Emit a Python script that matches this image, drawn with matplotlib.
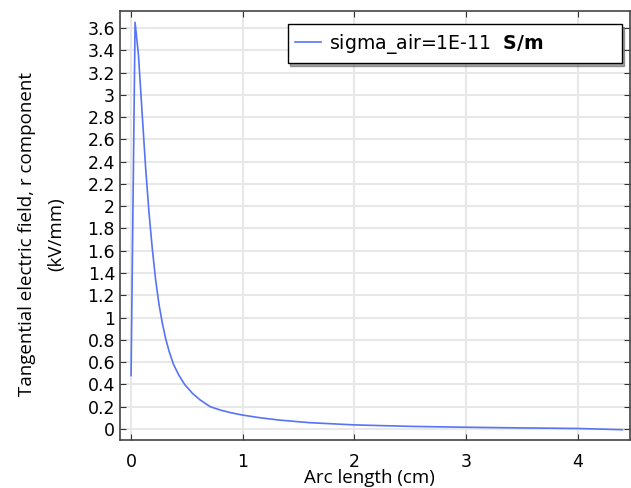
import matplotlib
matplotlib.use('Agg')
import matplotlib.pyplot as plt
from matplotlib.ticker import FormatStrFormatter
import numpy as np

# values
arc_len = [0.0, 0.036, 0.066, 0.10, 0.13, 0.16, 0.19, 0.22, 0.25, 0.28, 0.31, 0.34,
           0.38, 0.43, 0.48, 0.55, 0.62, 0.71, 0.80, 0.90, 1.0, 1.15, 1.33, 1.6,
           2.0, 2.5, 3.0, 3.5, 4.0, 4.4]
e_tan = [0.48, 3.65, 3.36, 2.82, 2.35, 1.95, 1.62, 1.34, 1.12, 0.95, 0.81, 0.70,
         0.58, 0.48, 0.40, 0.32, 0.26, 0.20, 0.17, 0.145, 0.125, 0.102, 0.08, 0.057,
         0.037, 0.024, 0.016, 0.010, 0.005, -0.006]
series_label = 'sigma_air=1E-11  $\\mathbf{S/m}$'
yticks = np.round(np.arange(0, 3.61, 0.2), 1)
xticks = [0, 1, 2, 3, 4]

plt.rcParams['mathtext.fontset'] = 'dejavusans'
fig = plt.figure(figsize=(6.31, 4.88), dpi=100)
ax = fig.add_axes([0.190, 0.098, 0.808, 0.879])

ax.plot(arc_len, e_tan, color='#5674f5', lw=1.2, label=series_label)

ax.set_xlim(-0.1, 4.465)
ax.set_ylim(-0.1, 3.75)
ax.set_xticks(xticks)
ax.set_yticks(yticks)
ax.yaxis.set_major_formatter(FormatStrFormatter('%g'))
ax.tick_params(direction='in', top=True, right=True, labelsize=12.5,
               length=4, color='#333333')
ax.tick_params(axis='x', pad=9)
ax.grid(True, color='#e8e8e8', lw=1.5)
ax.set_axisbelow(True)
for s in ax.spines.values():
    s.set_color('#444444')
    s.set_linewidth(1.2)

ax.set_xlabel('Arc length (cm)', fontsize=13.5, family='Open Sans')
ax.xaxis.set_label_coords(0.49, -0.068)
ax.set_ylabel('Tangential electric field, r component\n(kV/mm)', fontsize=13.5,
              family='Open Sans', linespacing=1.8)
ax.yaxis.set_label_coords(-0.108, 0.48)

leg = ax.legend(loc='upper left', fontsize=13.6, frameon=True, fancybox=False,
                shadow=True, edgecolor='black', borderpad=0.4, handlelength=1.35,
                handletextpad=0.45, mode='expand', borderaxespad=0,
                bbox_to_anchor=(0.329, 0.883, 0.655, 0.087))
leg.get_frame().set_linewidth(1.0)

fig.savefig('out.png', dpi=100)
